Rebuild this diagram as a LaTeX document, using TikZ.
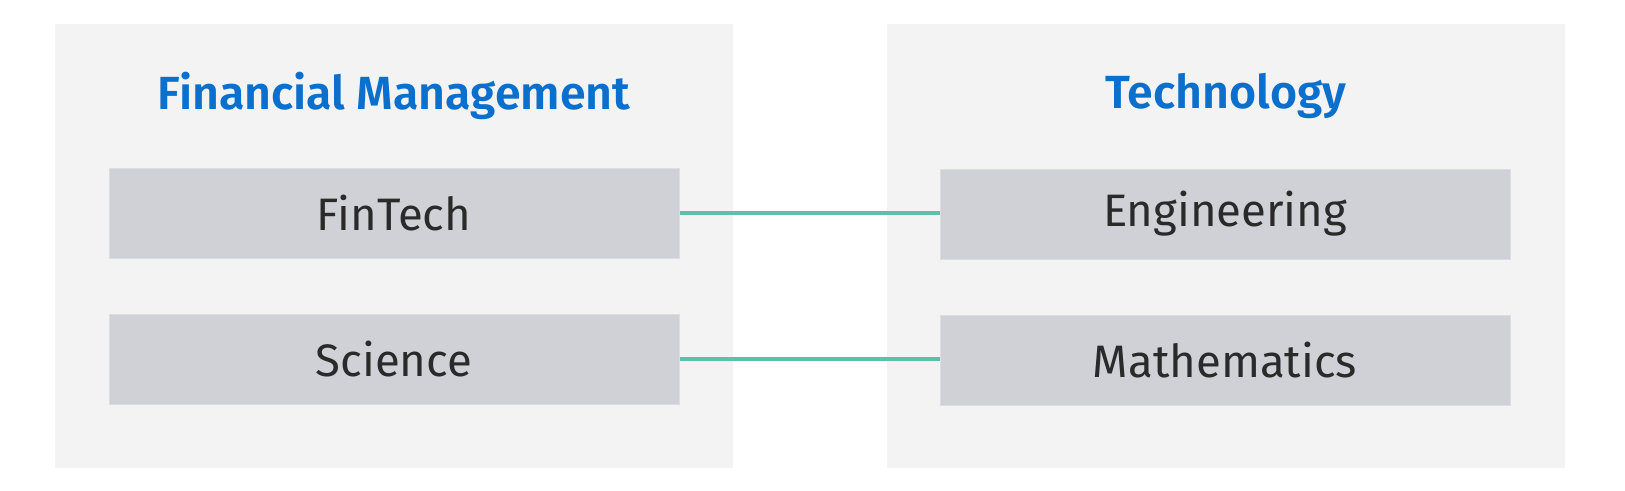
\documentclass[tikz,border=0pt]{standalone}
\usepackage{fontspec}
\setmainfont{Fira Sans}
\newfontfamily\titlefont{Fira Sans SemiBold}
\definecolor{panel}{HTML}{F3F3F3}
\definecolor{boxc}{HTML}{D0D1D6}
\definecolor{boxb}{HTML}{DCDDE1}
\definecolor{linkc}{HTML}{60BFA9}
\definecolor{titlec}{HTML}{0B70CD}
\definecolor{textc}{HTML}{2A2A2A}
\begin{document}
\begin{tikzpicture}[x=1pt,y=-1pt,
  panelbox/.style={fill=panel,draw=none},
  itembox/.style={fill=boxc,draw=boxb,line width=1pt,inner sep=0,minimum width=570pt,minimum height=90pt,
    text=textc,font=\fontsize{45.5}{52}\selectfont},
  titletext/.style={text=titlec,font=\titlefont\fontsize{46.5}{52}\selectfont},
  link/.style={draw=linkc,line width=4pt}]
\useasboundingbox (0,0) rectangle (1625,490);
\fill[white] (0,0) rectangle (1625,490);
\path[panelbox] (55,24) rectangle (733,468);
\path[panelbox] (887,24) rectangle (1565,468);
\node[titletext] (t1) at (394,96) {Financial Management};
\node[titletext] (t2) at (1226,96) {Technology};
\node[itembox] (a) at (394,213) {FinTech};
\node[itembox] (b) at (394,359) {Science};
\node[itembox] (c) at (1225,214) {Engineering};
\node[itembox] (d) at (1225,360) {Mathematics};
\draw[link] (a.east) -- (c.west |- a.east);
\draw[link] (b.east) -- (d.west |- b.east);
\end{tikzpicture}
\end{document}
